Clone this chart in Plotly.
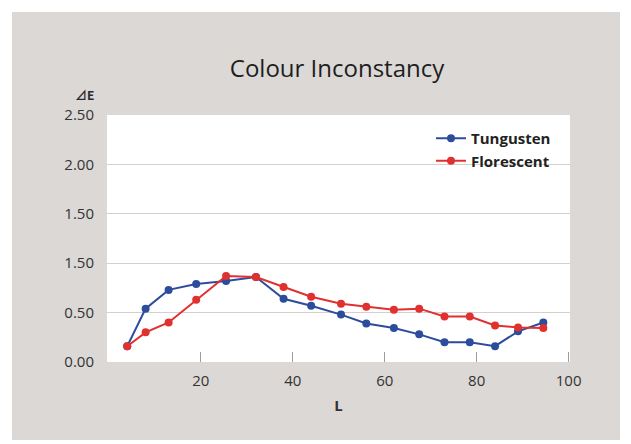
import plotly.graph_objects as go

# Data
L_values = [4, 8, 13, 19, 25.5, 32, 38, 44, 50.5, 56, 62, 67.5, 73, 78.5, 84, 89, 94.5]
tungsten = [0.16, 0.54, 0.73, 0.79, 0.82, 0.86, 0.64, 0.57, 0.48, 0.39, 0.345, 0.28, 0.20, 0.20, 0.16, 0.31, 0.40]
florescent = [0.16, 0.30, 0.40, 0.63, 0.87, 0.86, 0.76, 0.66, 0.59, 0.56, 0.53, 0.54, 0.46, 0.46, 0.37, 0.35, 0.345]

y_tickvals = [0.0, 0.5, 1.0, 1.5, 2.0, 2.5]
y_ticktext = ["0.00", "0.50", "1.50", "1.50", "2.00", "2.50"]
x_tickvals = [20, 40, 60, 80, 100]
x_ticktext = ["20", "40", "60", "80", "100"]

W, H = 631, 444
ML, MR, MT, MB = 107, 61, 115, 82
pw, ph = W - ML - MR, H - MT - MB


def px_x(p):
    return (p - ML) / pw


def px_y(p):
    return (H - MB - p) / ph


BLUE = "#2c4c9c"
RED = "#e0302f"
FONT = "Open Sans"
TXT = "#333333"

fig = go.Figure()
fig.add_trace(go.Scatter(
    x=L_values, y=tungsten, name="Tungusten", mode="lines+markers",
    line=dict(color=BLUE, width=2), marker=dict(color=BLUE, size=8),
))
fig.add_trace(go.Scatter(
    x=L_values, y=florescent, name="Florescent", mode="lines+markers",
    line=dict(color=RED, width=2), marker=dict(color=RED, size=8),
))

shapes = [
    dict(type="rect", xref="paper", yref="paper", layer="below",
         x0=px_x(12), x1=px_x(620), y0=px_y(440), y1=px_y(12),
         fillcolor="#dcd8d5", line=dict(width=0)),
    dict(type="rect", xref="paper", yref="paper", layer="below",
         x0=0, x1=1, y0=0, y1=1, fillcolor="white", line=dict(width=0)),
]

fig.update_layout(
    width=W, height=H,
    margin=dict(l=ML, r=MR, t=MT, b=MB, pad=0),
    paper_bgcolor="white",
    plot_bgcolor="white",
    shapes=shapes,
    font=dict(family=FONT, size=12, color=TXT),
    title=dict(text="Colour Inconstancy", x=337 / W, xanchor="center",
               y=1 - 69 / H, yanchor="middle",
               font=dict(family=FONT, size=24, color="#1e1e1e")),
    showlegend=True,
    legend=dict(x=px_x(431), y=px_y(122), xanchor="left", yanchor="top",
                bgcolor="rgba(0,0,0,0)", borderwidth=0,
                font=dict(family=FONT, size=15, color="#222222", weight="bold"),
                tracegroupgap=0, itemwidth=30),
    annotations=[
        dict(text="⊿E", xref="paper", yref="paper", x=px_x(96), y=px_y(95),
             xanchor="right", yanchor="middle", showarrow=False,
             font=dict(family="Noto Sans CJK JP", size=12, color="#2b2b2b", weight="bold")),
    ],
)

fig.update_xaxes(
    range=[-0.4, 100.3], tickvals=x_tickvals, ticktext=x_ticktext,
    ticks="inside", ticklen=10, tickcolor="#a09c9a", tickwidth=1,
    showgrid=False, zeroline=False, showline=False,
    tickfont=dict(family=FONT, size=15, color=TXT),
    ticklabelstandoff=8,
    title=dict(text="L", font=dict(family=FONT, size=15, color=TXT, weight="bold"), standoff=11),
)
fig.update_yaxes(
    range=[0, 2.5], tickvals=y_tickvals, ticktext=y_ticktext,
    ticks="", showgrid=True, gridcolor="#d4d0ce", gridwidth=1,
    zeroline=False, showline=False,
    tickfont=dict(family=FONT, size=15, color=TXT),
    ticklabelstandoff=12,
)

fig.write_html("out.html", post_script="document.body.style.margin='0';",
               config={"displayModeBar": False})
